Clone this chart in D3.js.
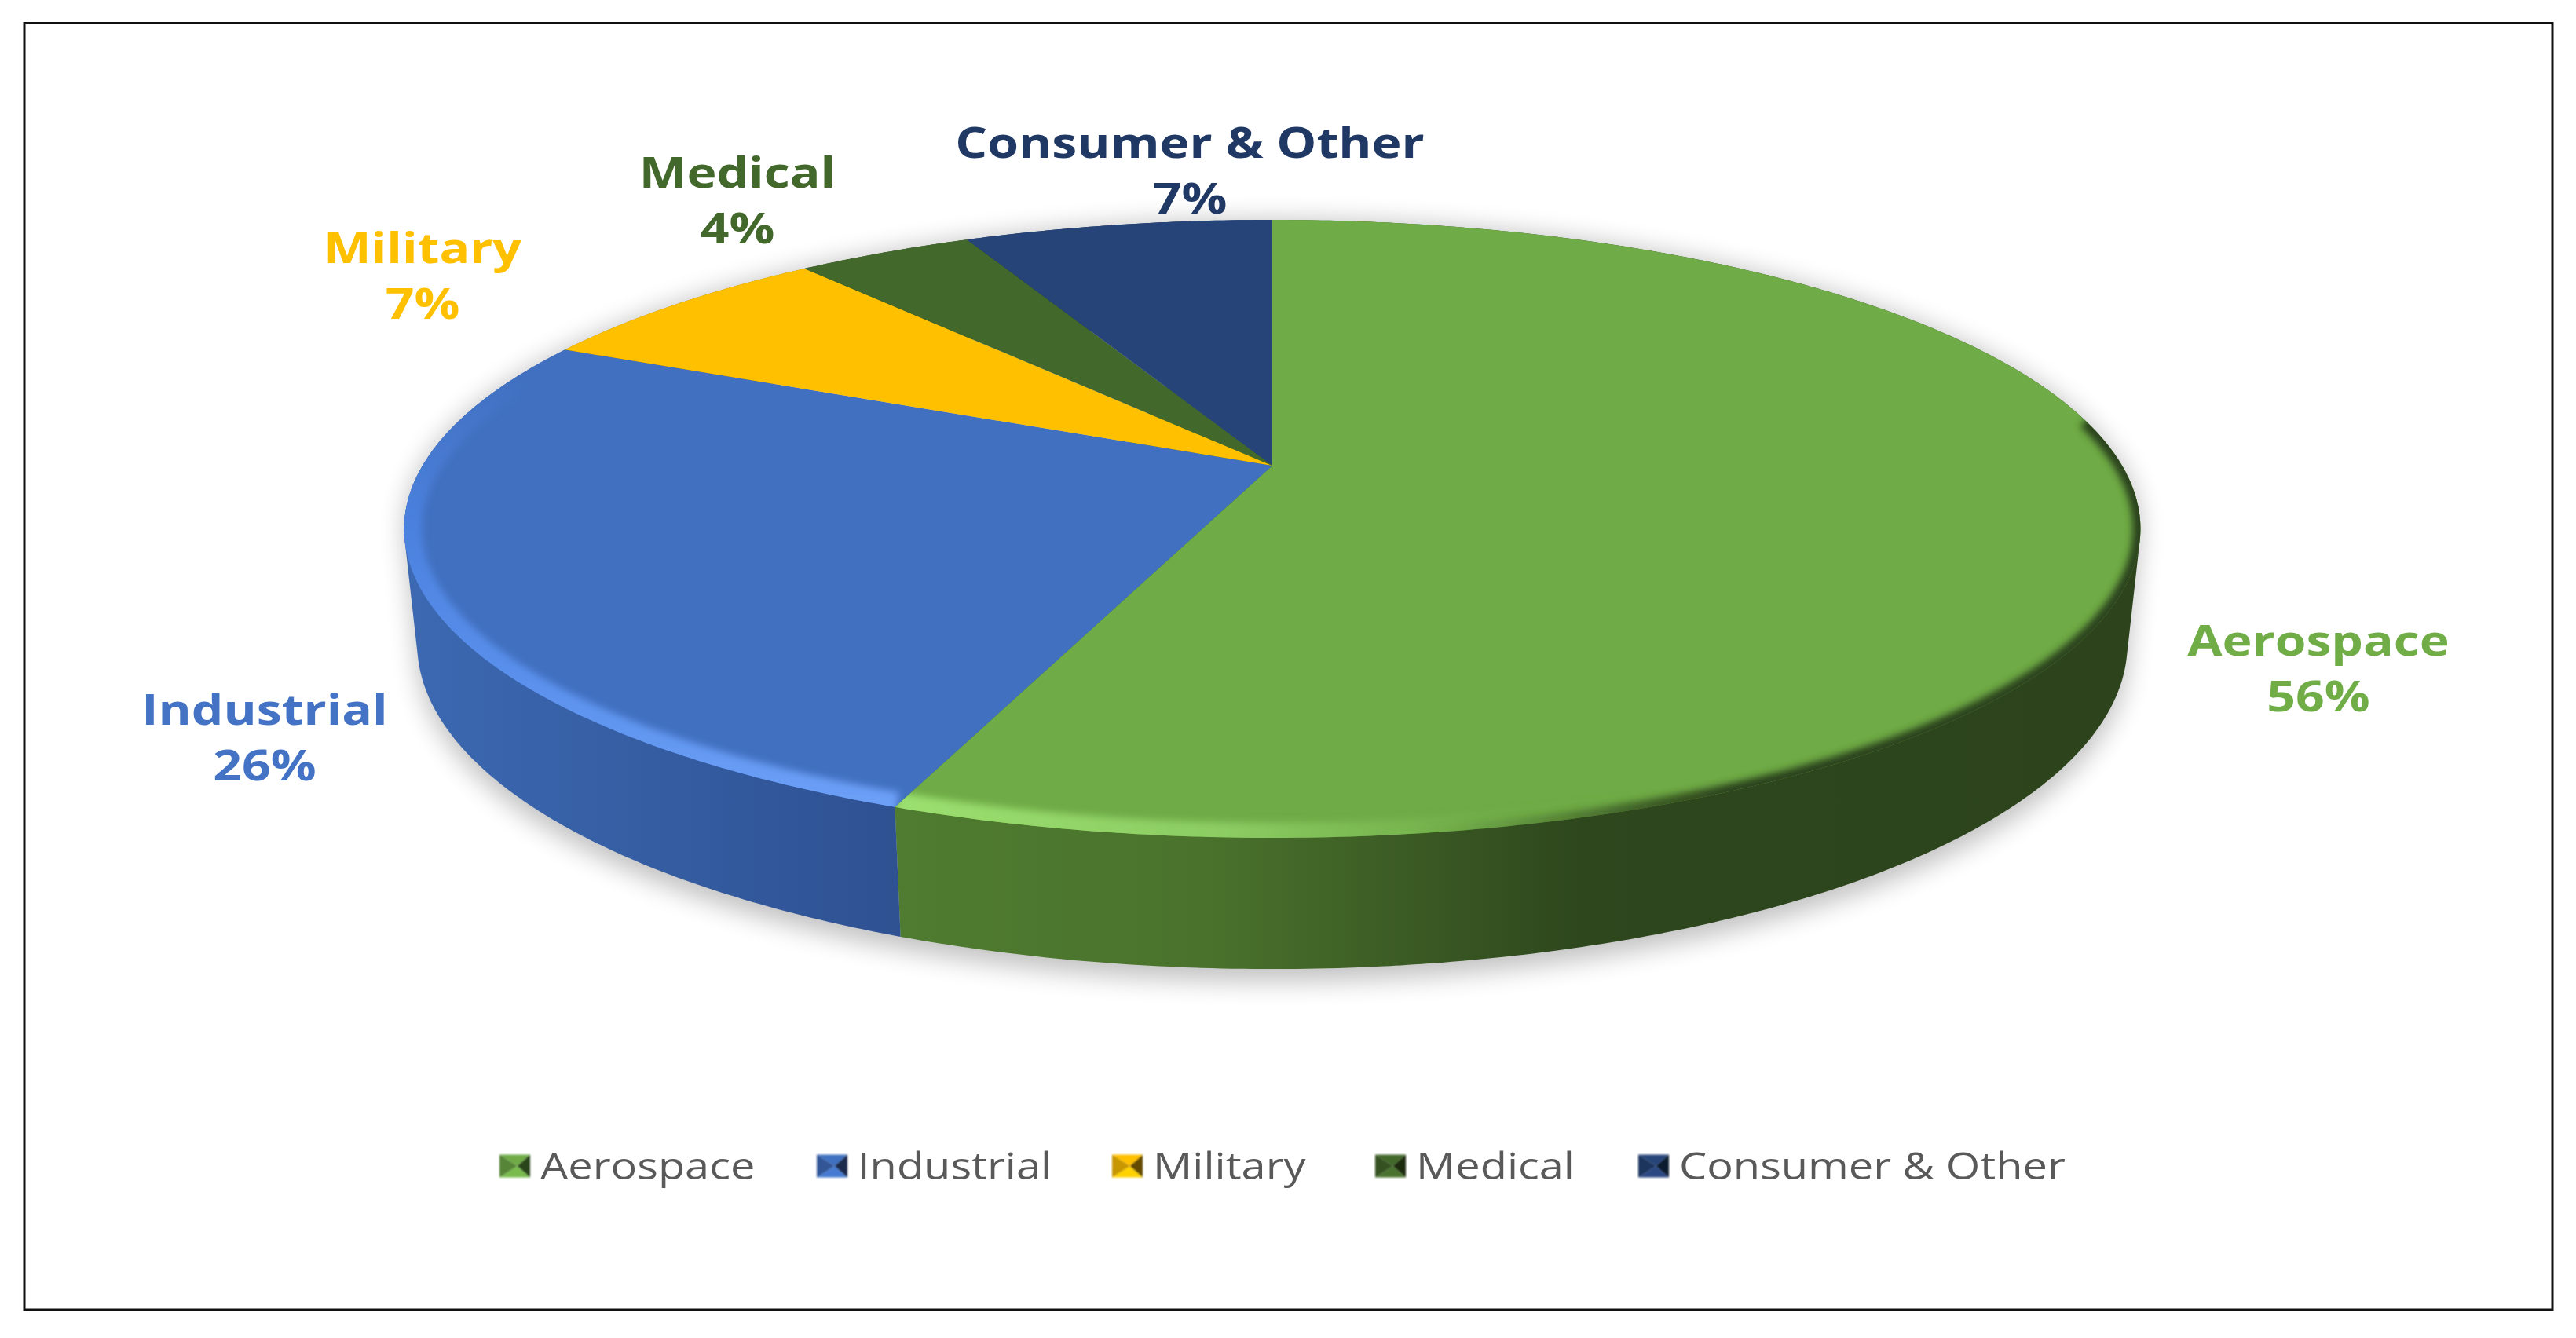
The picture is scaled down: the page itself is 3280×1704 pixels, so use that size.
<!DOCTYPE html>
<html>
<head>
<meta charset="utf-8">
<script src="https://cdn.jsdelivr.net/npm/d3@7"></script>
<style>
  html, body { margin: 0; padding: 0; background: #fff; }
  svg { display: block; }
  text { font-family: "Open Sans", sans-serif; }
</style>
</head>
<body>
<div id="bdy"></div>
<script>
var width = 3280;
var height = 1704;

// values (labels show them rounded)
var categories = ['Aerospace', 'Industrial', 'Military', 'Medical', 'Consumer & Other'];
var shares = [55.85, 26.15, 7, 4, 7];
var faceColors = ['#6fab46', '#4170c0', '#ffc000', '#43682b', '#264478'];
var labelColors = ['#70ad47', '#4472c4', '#ffc000', '#43682b', '#1f3864'];

// perspective of the disc, measured on the reference
var cx = 1620, cy = 593, lowerCy = 735;
var rx = 1082, ry = 377, persp = 0.2046;
var lowerX = 0.985, lowerY = 1.053;
var stretch = 1.19;   // the reference text is wider than the font

var svg = d3.select('#bdy').append('svg')
    .attr('width', width)
    .attr('height', height);

var defs = svg.append('defs');

function addBlur(id, dev) {
    defs.append('filter').attr('id', id)
        .attr('x', '-10%').attr('y', '-10%').attr('width', '120%').attr('height', '130%')
        .append('feGaussianBlur').attr('stdDeviation', dev);
}
addBlur('blurShadow', 16);
addBlur('blurBevel', 5);
addBlur('blurSwatch', 0.9);

// outer frame
svg.append('rect')
    .attr('x', 31).attr('y', 29.5)
    .attr('width', 3219).attr('height', 1638.5)
    .attr('fill', '#fff')
    .attr('stroke', '#111')
    .attr('stroke-width', 3);

//========================================================================
//                      PROJECTION
//========================================================================
// angle 0 is the top of the pie, going clockwise
function rim(a, sx, sy, yc) {
    var u = Math.sin(a), v = -Math.cos(a);
    var d = 1 - persp * v;
    return [cx + sx * rx * u / d, yc + sy * ry * v / d];
}
function arcPoints(a0, a1, sx, sy, yc) {
    var n = Math.max(2, Math.ceil((a1 - a0) / 0.01));
    return d3.range(n + 1).map(function(i) {
        return rim(a0 + (a1 - a0) * i / n, sx, sy, yc);
    });
}

var line = d3.line();
var pie = d3.pie().sort(null)(shares);
var tau = 2 * Math.PI;

function addGradient(id, x1, y1, x2, y2, stops) {
    var g = defs.append('linearGradient').attr('id', id)
        .attr('gradientUnits', 'userSpaceOnUse')
        .attr('x1', x1).attr('y1', y1).attr('x2', x2).attr('y2', y2);
    g.selectAll('stop').data(stops).enter().append('stop')
        .attr('offset', function(s) { return s[0]; })
        .attr('stop-color', function(s) { return s[1]; })
        .attr('stop-opacity', function(s) { return s.length > 2 ? s[2] : 1; });
}

//========================================================================
//                      SHADOW
//========================================================================
var outline = d3.polygonHull(
    arcPoints(0, tau, 1, 1, cy).concat(arcPoints(0, tau, lowerX, lowerY, lowerCy + 16)));
svg.append('path')
    .attr('d', line(outline) + 'Z')
    .attr('fill', '#000')
    .attr('opacity', 0.24)
    .attr('filter', 'url(#blurShadow)');

//========================================================================
//                      SIDE WALLS
//========================================================================
var wallStops = [
    [['0%', '#4f7c30'], ['25%', '#4a722c'], ['55%', '#2e471d'], ['100%', '#2c431b']],
    [['0%', '#3c69b2'], ['100%', '#2e5192']],
    [['0%', '#a67c00'], ['100%', '#a67c00']],
    [['0%', '#2a431b'], ['100%', '#2a431b']],
    [['0%', '#18305a'], ['100%', '#18305a']]
];

pie.forEach(function(d, i) {
    var top = arcPoints(d.startAngle, d.endAngle, 1, 1, cy);
    var low = arcPoints(d.startAngle, d.endAngle, lowerX, lowerY, lowerCy);
    var hull = d3.polygonHull(top.concat(low));
    var xs = d3.extent(hull, function(p) { return p[0]; });
    addGradient('wall' + i, xs[0], 0, xs[1], 0, wallStops[i]);
    svg.append('path')
        .attr('class', 'wall')
        .attr('d', line(hull) + 'Z')
        .attr('fill', 'url(#wall' + i + ')');
});

//========================================================================
//                      TOP FACE AND BEVEL
//========================================================================
addGradient('bevelGreenLight', 1140, 0, 2080, 0, [
    ['0%', '#9ce070'], ['45%', '#8fd066', 0.9], ['100%', '#70ad47', 0]
]);
addGradient('bevelGreenDark', 1800, 0, 2200, 0, [
    ['0%', '#2c431b', 0], ['100%', '#2c431b', 1]
]);
addGradient('bevelBlue', 0, 1070, 0, 480, [
    ['0%', '#72a4fa'], ['35%', '#5a90ec'], ['70%', '#4a80dd'], ['100%', '#4170c0']
]);

function bevel(g, a0, a1, paint, w, s) {
    g.append('path')
        .attr('d', line(arcPoints(a0, a1, s, s, cy)))
        .attr('fill', 'none')
        .attr('stroke', paint)
        .attr('stroke-width', w)
        .attr('filter', 'url(#blurBevel)');
}

pie.forEach(function(d, i) {
    var wedge = [[cx, cy]].concat(arcPoints(d.startAngle, d.endAngle, 1, 1, cy));
    defs.append('clipPath').attr('id', 'clip' + i)
        .append('path').attr('d', line(wedge) + 'Z');
    svg.append('path')
        .attr('class', 'slice')
        .attr('d', line(wedge) + 'Z')
        .attr('fill', faceColors[i]);

    var g = svg.append('g').attr('clip-path', 'url(#clip' + i + ')');
    if (i == 0) {
        bevel(g, Math.PI * 0.45, Math.PI * 0.97, 'url(#bevelGreenDark)', 20, 1);
        bevel(g, Math.PI * 0.8, d.endAngle, 'url(#bevelGreenLight)', 34, 0.995);
    }
    if (i == 1) {
        bevel(g, d.startAngle, Math.PI * 1.6, 'url(#bevelBlue)', 34, 0.995);
    }
});

//========================================================================
//                      DATA LABELS
//========================================================================
var labelPos = d3.scaleOrdinal().domain(categories).range([
    [2952, 816], [337, 904], [538, 316], [939, 220], [1515, 182]
]);

var labels = svg.selectAll('.label')
    .data(categories)
    .enter().append('text')
    .attr('class', 'label')
    .attr('text-anchor', 'middle')
    .attr('font-size', 54)
    .attr('font-weight', 700)
    .attr('fill', function(d, i) { return labelColors[i]; })
    .attr('transform', function(d) {
        var p = labelPos(d);
        return 'translate(' + p[0] + ',' + p[1] + ') scale(' + stretch + ',1)';
    });
labels.append('tspan').attr('x', 0).attr('y', 19)
    .text(function(d) { return d; });
labels.append('tspan').attr('x', 0).attr('y', 90)
    .text(function(d, i) { return Math.round(shares[i]) + '%'; });

//========================================================================
//                      LEGEND
//========================================================================
var legendX = d3.scaleOrdinal().domain(categories).range([636, 1040, 1416, 1751, 2086]);
var legendY = 1485, boxW = 39, boxH = 29;

var items = svg.selectAll('.legendItem')
    .data(categories)
    .enter().append('g')
    .attr('class', 'legendItem')
    .attr('transform', function(d) { return 'translate(' + legendX(d) + ',' + (legendY - boxH / 2) + ')'; });

var mid = [boxW * 0.58, boxH / 2];
var swatch = items.append('g').attr('filter', 'url(#blurSwatch)');
swatch.append('path')
    .attr('d', line([[0, 0], [boxW, 0], mid]) + 'Z')
    .attr('fill', function(d, i) { return faceColors[i]; });
swatch.append('path')
    .attr('d', line([[0, boxH], [boxW, boxH], mid]) + 'Z')
    .attr('fill', function(d, i) { return d3.color(faceColors[i]).brighter(0.25); });
swatch.append('path')
    .attr('d', line([[0, 0], [0, boxH], mid]) + 'Z')
    .attr('fill', function(d, i) { return d3.color(faceColors[i]).darker(0.7); });
swatch.append('path')
    .attr('d', line([[boxW, 0], [boxW, boxH], mid]) + 'Z')
    .attr('fill', function(d, i) { return d3.color(faceColors[i]).darker(2.6); });

items.append('text')
    .attr('transform', 'translate(' + (boxW + 13) + ',' + (boxH / 2 + 17) + ') scale(' + stretch + ',1)')
    .attr('font-size', 47)
    .attr('fill', '#595959')
    .text(function(d) { return d; });
</script>
</body>
</html>
